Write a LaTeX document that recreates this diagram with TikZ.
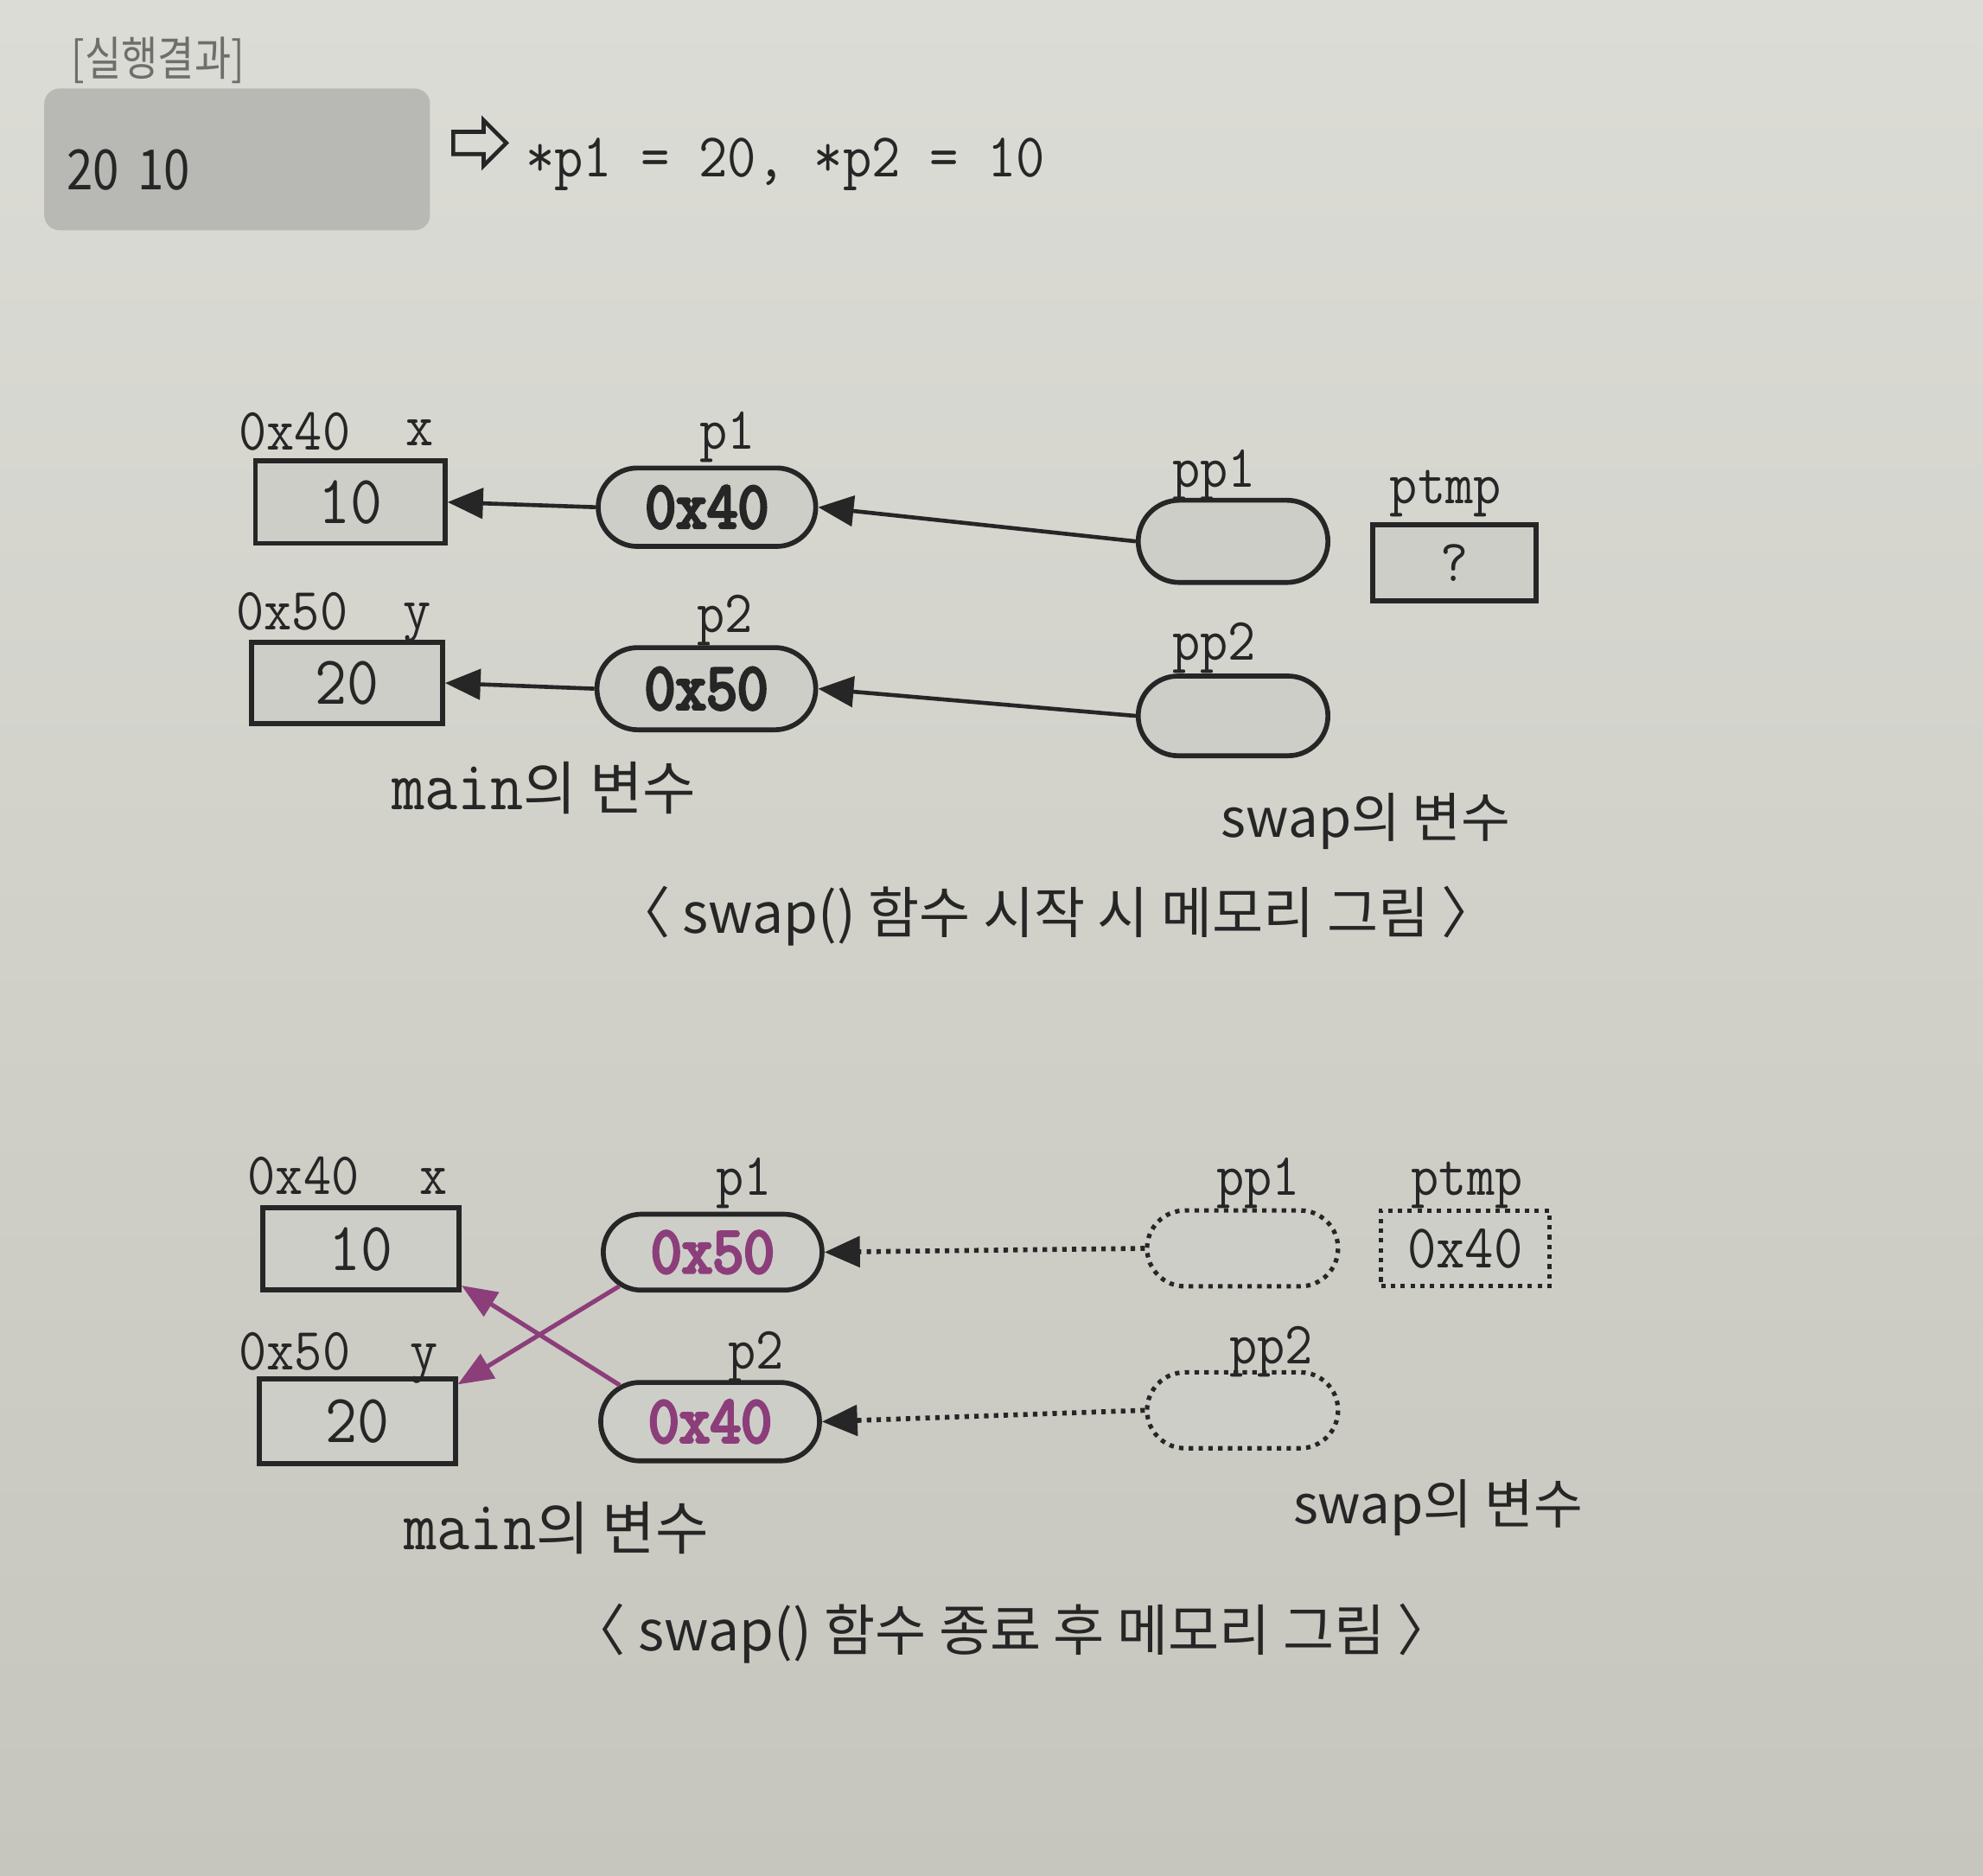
\documentclass[tikz,border=0pt]{standalone}
\usepackage{fontspec}
\setmainfont{Noto Sans CJK KR}
\newfontfamily\kr{Noto Sans CJK KR}
\newfontfamily\krc[FakeStretch=0.85]{Noto Sans CJK KR}
\newfontfamily\mono[FakeStretch=0.9]{Latin Modern Mono}
\newfontfamily\monobf[FakeStretch=0.9,FakeBold=4.5]{Latin Modern Mono}
\usetikzlibrary{shapes.misc,shapes.arrows,arrows.meta}
\definecolor{bgc}{RGB}{226,226,221}
\definecolor{bgtop}{RGB}{220,220,214}
\definecolor{bgbot}{RGB}{198,198,190}
\definecolor{boxc}{RGB}{206,206,201}
\definecolor{resc}{RGB}{184,184,180}
\definecolor{ink}{RGB}{38,38,38}
\definecolor{purp}{RGB}{140,62,122}
\definecolor{capc}{RGB}{110,110,108}
\begin{document}
\begin{tikzpicture}[
  cell/.style={draw=ink, fill=boxc, line width=1.1pt, inner sep=0pt, font=\mono\fontsize{15.5}{18}\selectfont, text=ink},
  ptr/.style={rounded rectangle, draw=ink, fill=boxc, line width=1.1pt, inner sep=0pt, font=\monobf\fontsize{15}{18}\selectfont, text=ink},
  gone/.style={dash pattern=on 1pt off 1.2pt, line width=1pt},
  lbl/.style={font=\mono\fontsize{13.5}{16}\selectfont, text=ink, inner sep=0pt, anchor=base},
  krl/.style={font=\kr\fontsize{13}{16}\selectfont, text=ink, inner sep=0pt, anchor=base},
  link/.style={draw=ink, line width=0.9pt, -{Triangle[length=0.28cm,width=0.24cm]}},
  dlink/.style={link, line width=1.1pt, dash pattern=on 1pt off 1.2pt},
  xlink/.style={draw=purp, line width=1pt, -{Triangle[length=0.28cm,width=0.22cm]}}
]
\useasboundingbox (0,0) rectangle (15.68,-14.83);
\shade[top color=bgtop, middle color=bgc, bottom color=bgbot] (0,0) rectangle (15.68,-14.83);

% ---- result box ----
\node[font=\krc\fontsize{10.5}{12}\selectfont, text=capc, inner sep=0pt, anchor=base] (restitle) at (1.25,-0.60) {[실행결과]};
\node[fill=resc, rounded corners=0.12cm, minimum width=3.05cm, minimum height=1.12cm, inner sep=0pt] (resbox) at (1.875,-1.26) {};
\node[font=\krc\fontsize{12.5}{15}\selectfont, text=ink, inner sep=0pt, anchor=base west] (resval) at (0.52,-1.50) {20\,\,10};
\node[single arrow, draw=ink, line width=0.9pt, minimum height=0.42cm, minimum width=0.36cm, single arrow head extend=0.09cm, inner sep=0.07cm] (harrow) at (3.75,-1.13) {};
\node[font=\mono\fontsize{14}{16}\selectfont, text=ink, inner sep=0pt, anchor=base west] (restext) at (4.15,-1.40) {*p1 = 20, *p2 = 10};

% ---- diagram 1 ----
\node[cell, minimum width=1.50cm, minimum height=0.65cm] (x1) at (2.77,-3.97) {10};
\node[lbl] (ax1) at (2.33,-3.56) {0x40};
\node[lbl] (nx1) at (3.32,-3.52) {x};
\node[ptr, minimum width=1.72cm, minimum height=0.62cm] (p1) at (5.59,-4.01) {0x40};
\node[lbl] (lp1) at (5.75,-3.55) {p1};
\node[ptr, minimum width=1.50cm, minimum height=0.65cm] (pp1) at (9.75,-4.28) {};
\node[lbl] (lpp1) at (9.60,-3.85) {pp1};
\node[cell, minimum width=1.29cm, minimum height=0.60cm, font=\mono\fontsize{13.5}{16}\selectfont] (pt1) at (11.50,-4.45) {?};
\node[lbl] (lpt1) at (11.43,-3.98) {ptmp};

\node[cell, minimum width=1.51cm, minimum height=0.64cm] (y1) at (2.745,-5.40) {20};
\node[lbl] (ay1) at (2.31,-4.98) {0x50};
\node[lbl] (ny1) at (3.30,-4.97) {y};
\node[ptr, minimum width=1.73cm, minimum height=0.65cm] (p2) at (5.585,-5.445) {0x50};
\node[lbl] (lp2) at (5.73,-5.00) {p2};
\node[ptr, minimum width=1.50cm, minimum height=0.63cm] (pp2) at (9.75,-5.66) {};
\node[lbl] (lpp2) at (9.60,-5.22) {pp2};

\draw[link] (p1.west) -- (x1.east);
\draw[link] (pp1.west) -- (p1.east);
\draw[link] (p2.west) -- (y1.east);
\draw[link] (pp2.west) -- (p2.east);

\node[krl] (main1) at (4.30,-6.40) {{\mono\fontsize{16}{18}\selectfont main}의 변수};
\node[krl, font=\kr\fontsize{12}{15}\selectfont] (swap1) at (10.80,-6.62) {swap의 변수};
\node[krl, font=\kr\fontsize{12.5}{15}\selectfont] (cap1) at (8.35,-7.38) {〈 swap() 함수 시작 시 메모리 그림 〉};

% ---- diagram 2 ----
\node[cell, minimum width=1.55cm, minimum height=0.65cm] (x2) at (2.855,-9.875) {10};
\node[lbl] (ax2) at (2.40,-9.44) {0x40};
\node[lbl] (nx2) at (3.43,-9.44) {x};
\node[ptr, minimum width=1.73cm, minimum height=0.60cm, text=purp] (p1b) at (5.635,-9.90) {0x50};
\node[lbl] (lp1b) at (5.88,-9.45) {p1};
\node[ptr, gone, minimum width=1.51cm, minimum height=0.60cm] (pp1b) at (9.825,-9.87) {};
\node[lbl] (lpp1b) at (9.95,-9.45) {pp1};
\node[cell, gone, minimum width=1.33cm, minimum height=0.60cm, font=\mono\fontsize{14}{16}\selectfont] (pt2) at (11.585,-9.87) {0x40};
\node[lbl] (lpt2) at (11.60,-9.45) {ptmp};

\node[cell, minimum width=1.55cm, minimum height=0.67cm] (y2) at (2.825,-11.235) {20};
\node[lbl] (ay2) at (2.33,-10.83) {0x50};
\node[lbl] (ny2) at (3.35,-10.83) {y};
\node[ptr, minimum width=1.73cm, minimum height=0.62cm, text=purp] (p2b) at (5.615,-11.24) {0x40};
\node[lbl] (lp2b) at (5.98,-10.82) {p2};
\node[ptr, gone, minimum width=1.51cm, minimum height=0.60cm] (pp2b) at (9.825,-11.15) {};
\node[lbl] (lpp2b) at (10.05,-10.78) {pp2};

\draw[dlink] (pp1b.west) -- (p1b.east);
\draw[dlink] (pp2b.west) -- (p2b.east);
\draw[xlink] (p1b.200) -- (y2.20);
\draw[xlink] (p2b.158) -- (x2.-20);

\node[krl] (main2) at (4.40,-12.25) {{\mono\fontsize{16}{18}\selectfont main}의 변수};
\node[krl, font=\kr\fontsize{12}{15}\selectfont] (swap2) at (11.37,-12.05) {swap의 변수};
\node[krl, font=\kr\fontsize{12.5}{15}\selectfont] (cap2) at (8.00,-13.05) {〈 swap() 함수 종료 후 메모리 그림 〉};
\end{tikzpicture}
\end{document}
